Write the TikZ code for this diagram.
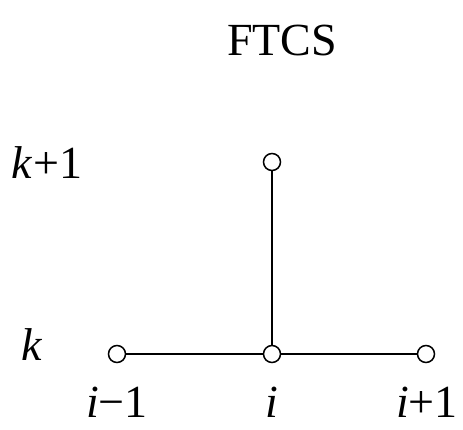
\documentclass[tikz,border=0pt]{standalone}
\usepackage{fontspec}
\setmainfont{Liberation Serif}
\begin{document}
\begin{tikzpicture}[x=1pt,y=-1pt,
  pt/.style={circle,draw,line width=1.5pt,fill=white,minimum size=17pt,inner sep=0pt},
  lab/.style={anchor=base,inner sep=0pt,font=\fontsize{46}{50}\selectfont},
  edge/.style={line width=1.4pt}]
\useasboundingbox (0,0) rectangle (463,429);
\node[lab] (title) at (282,55) {FTCS};
\node[pt] (a) at (117,354) {};
\node[pt] (b) at (272,354) {};
\node[pt] (c) at (426,354) {};
\node[pt] (t) at (272,162) {};
\draw[edge] (a) -- (b);
\draw[edge] (b) -- (c);
\draw[edge] (b) -- (t);
\node[lab] (lk1) at (47,178) {\textit{k}+1};
\node[lab] (lk) at (32,360) {\textit{k}};
\node[lab] (li1) at (117,417) {\textit{i}−1};
\node[lab] (li) at (272,417) {\textit{i}};
\node[lab] (li2) at (427,417) {\textit{i}+1};
\end{tikzpicture}
\end{document}
